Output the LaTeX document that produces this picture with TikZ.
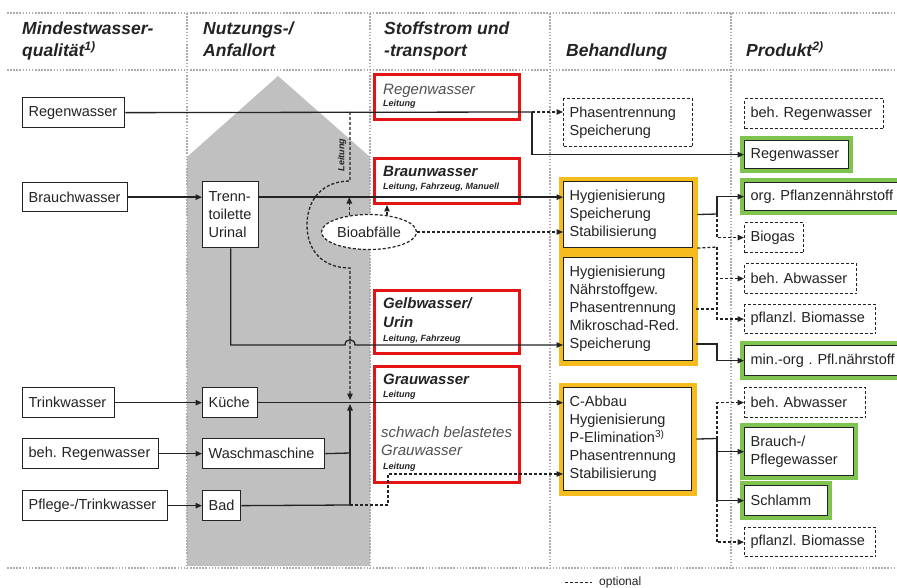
\documentclass[tikz,border=0pt]{standalone}
\usepackage{fontspec}
\setmainfont{Liberation Sans}
\usetikzlibrary{arrows.meta,shapes.geometric}
\frenchspacing

\definecolor{gridgray}{RGB}{172,172,172}
\definecolor{housegray}{RGB}{192,192,192}
\definecolor{redframe}{RGB}{228,20,20}
\definecolor{orangeframe}{RGB}{246,188,30}
\definecolor{greenframe}{RGB}{128,196,80}
\definecolor{ink}{RGB}{35,35,35}
\definecolor{softink}{RGB}{80,80,80}

\newcommand\boxfont{\fontsize{14.5}{18}\selectfont}
\newcommand\headfont{\fontsize{17.5}{21}\selectfont\bfseries\itshape}
\newcommand\tinyfont{\fontsize{9}{11}\selectfont\bfseries\itshape}
\newcommand\flowfont{\fontsize{15}{18}\selectfont\itshape}

\begin{document}
\begin{tikzpicture}[x=1pt,y=-1pt,
  gridline/.style={draw=gridgray, line width=1.6pt, dash pattern=on 1.6pt off 1.5pt},
  nbox/.style={draw=ink, line width=1.3pt, fill=white, anchor=north west,
    inner xsep=6pt, inner ysep=0pt, align=left, font=\boxfont, text=ink},
  optbox/.style={nbox, line width=1.2pt, dash pattern=on 3pt off 2pt},
  greenbox/.style={nbox, preaction={draw=greenframe, line width=9pt}},
  orangebox/.style={nbox, preaction={draw=orangeframe, line width=10pt}},
  flowbox/.style={draw=redframe, line width=3pt, anchor=north west, inner sep=0pt},
  flowtxt/.style={anchor=base west, inner sep=0pt, text=ink},
  colhead/.style={anchor=base west, inner sep=0pt, font=\headfont, text=ink},
  conn/.style={draw=ink, line width=1.3pt},
  optline/.style={conn, dash pattern=on 3pt off 2pt},
  headtip/.style={-{Triangle[length=6.5pt,width=5.5pt]}},
]
\useasboundingbox (0,0) rectangle (897,588);
\clip (0,0) rectangle (897,588);

% house of the places of use
\fill[housegray] (187,157) -- (278,76) -- (370,157) -- (370,566) -- (187,566) -- cycle;

% column grid
\draw[gridline] (7,13) -- (897,13);
\draw[gridline] (7,70) -- (897,70);
\draw[gridline] (7,568) -- (897,568);
\foreach \gx in {187,370,550,731}
  \draw[gridline] (\gx,13) -- (\gx,568);

% column headings
\node[colhead] (h1a) at (22,35) {Mindestwasser-};
\node[colhead] (h1b) at (22,57) {qualität\textsuperscript{1)}};
\node[colhead] (h2a) at (203,35) {Nutzungs-/};
\node[colhead] (h2b) at (203,57) {Anfallort};
\node[colhead] (h3a) at (384,35) {Stoffstrom und};
\node[colhead] (h3b) at (384,57) {-transport};
\node[colhead] (h4) at (566,57) {Behandlung};
\node[colhead] (h5) at (746,57) {Produkt\textsuperscript{2)}};

% minimum water quality
\node[nbox, text width=90pt, minimum height=30pt] (srcRain) at (22,97) {Regenwasser};
\node[nbox, text width=93pt, minimum height=29pt] (srcService) at (22,182) {Brauchwasser};
\node[nbox, text width=80pt, minimum height=30pt] (srcDrink) at (22,387) {Trinkwasser};
\node[nbox, text width=124pt, minimum height=30pt] (srcTreated) at (22,438) {beh. Regenwasser};
\node[nbox, text width=133pt, minimum height=30pt] (srcCare) at (22,490) {Pflege-/Trinkwasser};

% places of use
\node[nbox, text width=44pt, minimum height=66pt] (useToilet) at (202,181) {Trenn-\\toilette\\Urinal};
\node[nbox, text width=43pt, minimum height=30pt] (useKitchen) at (202,387) {Küche};
\node[nbox, text width=110pt, minimum height=30pt] (useWash) at (202,438) {Waschmaschine};
\node[nbox, text width=26pt, minimum height=30pt] (useBath) at (202,490) {Bad};

% material flows
\node[flowbox, minimum width=145pt, minimum height=45pt] (flowRain) at (373,73) {};
\node[flowbox, minimum width=145pt, minimum height=45pt] (flowBrown) at (373,157) {};
\node[flowbox, minimum width=145pt, minimum height=63pt] (flowUrine) at (373,289) {};
\node[flowbox, minimum width=145pt, minimum height=116pt] (flowGrey) at (373,365) {};

\node[flowtxt, font=\flowfont, text=softink] (flowRainT) at (383,95) {Regenwasser};
\node[flowtxt, font=\tinyfont] (flowRainL) at (383,107) {Leitung};
\node[flowtxt, font=\flowfont\bfseries] (flowBrownT) at (383,177) {Braunwasser};
\node[flowtxt, font=\tinyfont] (flowBrownL) at (383,190) {Leitung, Fahrzeug, Manuell};
\node[flowtxt, font=\flowfont\bfseries] (flowUrineT1) at (383,308) {Gelbwasser/};
\node[flowtxt, font=\flowfont\bfseries] (flowUrineT2) at (383,327) {Urin};
\node[flowtxt, font=\tinyfont] (flowUrineL) at (383,341) {Leitung, Fahrzeug};
\node[flowtxt, font=\flowfont\bfseries] (flowGreyT) at (383,384) {Grauwasser};
\node[flowtxt, font=\tinyfont] (flowGreyL) at (383,397) {Leitung};
\node[flowtxt, font=\flowfont, text=softink] (flowLightT1) at (381,437) {schwach belastetes};
\node[flowtxt, font=\flowfont, text=softink] (flowLightT2) at (381,455) {Grauwasser};
\node[flowtxt, font=\tinyfont] (flowLightL) at (383,469) {Leitung};

% treatment
\node[optbox, text width=117pt, minimum height=48pt] (trtPhase) at (563,98) {Phasentrennung\\Speicherung};
\node[orangebox, text width=117pt, minimum height=66pt] (trtBrown) at (563,181) {Hygienisierung\\Speicherung\\Stabilisierung};
\node[orangebox, text width=117pt, minimum height=103pt] (trtUrine) at (563,257) {Hygienisierung\\Nährstoffgew.\\Phasentrennung\\Mikroschad-Red.\\Speicherung};
\node[orangebox, text width=116pt, minimum height=103pt] (trtGrey) at (563,387) {C-Abbau\\Hygienisierung\\P-Elimination\textsuperscript{3)}\\Phasentrennung\\Stabilisierung};

% products
\node[optbox, text width=127pt, minimum height=30pt] (prdRainT) at (744,98) {beh. Regenwasser};
\node[greenbox, text width=92pt, minimum height=28pt] (prdRain) at (744,140) {Regenwasser};
\node[greenbox, text width=158pt, minimum height=28pt] (prdNutr) at (744,182) {org. Pflanzennährstoff};
\node[optbox, text width=47pt, minimum height=30pt] (prdBiogas) at (744,222) {Biogas};
\node[optbox, text width=100pt, minimum height=30pt] (prdWaste1) at (744,263) {beh. Abwasser};
\node[optbox, text width=119pt, minimum height=29pt] (prdBiomass1) at (744,304) {pflanzl. Biomasse};
\node[greenbox, text width=158pt, minimum height=30pt] (prdMineral) at (744,345) {min.-org . Pfl.nährstoff};
\node[optbox, text width=109pt, minimum height=30pt] (prdWaste2) at (744,387) {beh. Abwasser};
\node[greenbox, text width=97pt, minimum height=48pt] (prdService) at (744,427) {Brauch-/\\Pflegewasser};
\node[greenbox, text width=71pt, minimum height=30pt] (prdSludge) at (744,485) {Schlamm};
\node[optbox, text width=119pt, minimum height=29pt] (prdBiomass2) at (744,527) {pflanzl. Biomasse};

% organic waste
\node[draw=ink, line width=1.2pt, dash pattern=on 3pt off 2pt, ellipse, fill=white,
  minimum width=95pt, minimum height=35pt, inner sep=0pt, font=\boxfont, text=ink] (bio) at (369,232) {Bioabfälle};

% ---- connectors ----
% rain water
\coordinate (rainSplit) at (532,112);
\draw[conn] (srcRain.east) -- (rainSplit);
\draw[optline,headtip] (rainSplit) -- (rainSplit -| trtPhase.west);
\draw[conn,headtip] (rainSplit) |- (prdRain.west);

% rain water pipe to the kitchen, led round the organic waste
\coordinate (pipeTop) at (350,112);
\coordinate (pipeEnd) at (350,400);
\draw[optline,headtip] (pipeTop) -- (350,181)
  .. controls (322,181) and (307,200) .. (307,225)
  .. controls (307,250) and (322,268) .. (350,268) -- (pipeEnd);
\node[font=\tinyfont, text=ink, rotate=90, inner sep=0pt] (pipeLbl) at (342,155) {Leitung};

% toilet
\draw[conn,headtip] (srcService.east) -- (srcService.east -| useToilet.west);
\draw[conn,headtip] (srcService.east -| useToilet.east) -- (srcService.east -| trtBrown.west);
\draw[optline,headtip] (bio.140) -- (bio.140 |- srcService.east);
\draw[optline,headtip] (bio.43) -- (bio.43 |- flowBrown.south);
\draw[optline,headtip] (bio.east) -- (bio.east -| trtBrown.west);

\coordinate (hopL) at (345,345);
\coordinate (hopR) at (355,345);
\draw[conn,headtip] (useToilet.south) |- (hopL) .. controls (345,338) and (355,338) .. (hopR)
  -- (hopR -| trtUrine.west);

% grey water
\draw[conn,headtip] (srcDrink.east) -- (useKitchen.west);
\draw[conn,headtip] (srcTreated.east) -- (useWash.west);
\draw[conn,headtip] (srcCare.east) -- (useBath.west);
\draw[conn,headtip] (useKitchen.east) -- (useKitchen.east -| trtGrey.west);
\coordinate (washJoin) at (350,453);
\coordinate (bathJoin) at (350,505);
\coordinate (kitchenJoin) at (350,404);
\draw[conn] (useWash.east) -- (washJoin);
\draw[conn] (useBath.east) -- (bathJoin);
\draw[conn,headtip] (bathJoin) -- (kitchenJoin);
\coordinate (lightBend) at (388,474);
\draw[optline,headtip] (bathJoin) -| (lightBend) -- (lightBend -| trtGrey.west);

% treatment to products
\coordinate (brownSplit) at (717,214);
\draw[conn, shorten <=4pt] (trtBrown.east) -- (brownSplit);
\draw[conn,headtip] (brownSplit) |- (prdNutr.west);
\draw[optline,headtip] (brownSplit) |- (prdBiogas.west);

\coordinate (optSplit) at (717,247);
\coordinate (urineOpt) at (692,309);
\draw[optline, shorten <=4pt] (trtBrown.south east) -- (optSplit);
\draw[optline, shorten <=4pt] (urineOpt) -- (urineOpt -| optSplit);
\draw[optline,headtip] (optSplit) |- (prdWaste1.west);
\draw[optline,headtip] (optSplit) |- (prdBiomass1.west);

\coordinate (urineOut) at (692,344);
\coordinate (urineSplit) at (717,344);
\draw[conn,headtip, shorten <=4pt] (urineOut) -- (urineSplit) |- (prdMineral.west);

\coordinate (greySplit) at (717,438.5);
\draw[conn, shorten <=4pt] (trtGrey.east) -- (greySplit);
\draw[optline,headtip] (greySplit) |- (prdWaste2.west);
\draw[optline,headtip] (greySplit) |- (prdBiomass2.west);
\draw[conn,headtip] (greySplit) |- (prdService.west);
\draw[conn,headtip] (greySplit) |- (prdSludge.west);

% legend
\coordinate (legendStart) at (565,582);
\node[anchor=west, inner sep=0pt, font=\fontsize{12}{14}\selectfont, text=ink] (legend) at (599,582) {optional};
\draw[optline, line width=1pt, shorten >=7pt] (legendStart) -- (legend.west);
\end{tikzpicture}
\end{document}
